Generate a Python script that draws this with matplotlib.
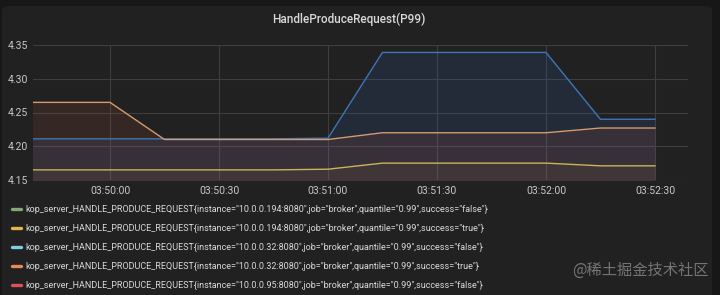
import matplotlib
matplotlib.use("Agg")
import matplotlib.pyplot as plt
import matplotlib.dates as mdates
from matplotlib.lines import Line2D
from matplotlib.patches import FancyBboxPatch
import pandas as pd

# sample times (15s scrape interval)
times = pd.to_datetime([
    "2021-01-01 03:49:30", "2021-01-01 03:49:45", "2021-01-01 03:50:00",
    "2021-01-01 03:50:15", "2021-01-01 03:50:30", "2021-01-01 03:50:45",
    "2021-01-01 03:51:00", "2021-01-01 03:51:15", "2021-01-01 03:51:30",
    "2021-01-01 03:51:45", "2021-01-01 03:52:00", "2021-01-01 03:52:15",
    "2021-01-01 03:52:30",
])

# p99 latency per series
s194_true = [4.165, 4.165, 4.165, 4.165, 4.165, 4.165, 4.166, 4.175, 4.175, 4.175, 4.175, 4.171, 4.171]
s32_false = [4.211, 4.211, 4.211, 4.211, 4.211, 4.211, 4.212, 4.339, 4.339, 4.339, 4.339, 4.240, 4.240]
s32_true = [4.265, 4.265, 4.265, 4.210, 4.210, 4.210, 4.210, 4.220, 4.220, 4.220, 4.220, 4.227, 4.227]

legend_labels = [
    'kop_server_HANDLE_PRODUCE_REQUEST{instance="10.0.0.194:8080",job="broker",quantile="0.99",success="false"}',
    'kop_server_HANDLE_PRODUCE_REQUEST{instance="10.0.0.194:8080",job="broker",quantile="0.99",success="true"}',
    'kop_server_HANDLE_PRODUCE_REQUEST{instance="10.0.0.32:8080",job="broker",quantile="0.99",success="false"}',
    'kop_server_HANDLE_PRODUCE_REQUEST{instance="10.0.0.32:8080",job="broker",quantile="0.99",success="true"}',
    'kop_server_HANDLE_PRODUCE_REQUEST{instance="10.0.0.95:8080",job="broker",quantile="0.99",success="false"}',
]
legend_colors = ["#86a873", "#e0b84a", "#7ccfe6", "#e88a55", "#e0505a"]

yticks = [4.15, 4.20, 4.25, 4.30, 4.35]

plt.rcParams["font.family"] = ["Roboto", "DejaVu Sans"]

W, H = 720, 295
fig = plt.figure(figsize=(W / 100, H / 100), dpi=100, facecolor="#171717")

# panel background
panel = FancyBboxPatch((2 / W, -0.1), 710 / W, (H - 6) / H + 0.1,
                       boxstyle="round,pad=0,rounding_size=0.012",
                       transform=fig.transFigure, fc="#212121", ec="none", zorder=-10)
fig.patches.append(panel)

ax = fig.add_axes([33 / W, 1 - 180 / H, (688 - 33) / W, (180 - 45) / H])
ax.set_facecolor("none")

# fills (grafana fill=1)
ax.fill_between(times, s32_false, 4.0, color="#3274d9", alpha=0.13, lw=0)
ax.fill_between(times, s32_true, 4.0, color="#e0603c", alpha=0.11, lw=0)
ax.fill_between(times, s194_true, 4.0, color="#eab839", alpha=0.05, lw=0)

ax.plot(times, s32_false, color="#3f76b8", lw=1.0)
ax.plot(times, s194_true, color="#c9b45c", lw=1.0)
ax.plot(times, s32_true, color="#d49a70", lw=1.0)

ax.set_xlim(pd.Timestamp("2021-01-01 03:49:38.8"), pd.Timestamp("2021-01-01 03:52:39.1"))
ax.set_ylim(4.15, 4.35)
ax.set_yticks(yticks)
ax.set_yticklabels(["%.2f" % v for v in yticks])
ax.xaxis.set_major_locator(mdates.SecondLocator(bysecond=[0, 30]))
ax.xaxis.set_major_formatter(mdates.DateFormatter("%H:%M:%S"))

ax.grid(True, color="#3e3e3e", lw=0.8)
ax.set_axisbelow(True)
for sp in ax.spines.values():
    sp.set_visible(False)
ax.tick_params(length=0, colors="#c8c8c8", labelsize=7.5)
ax.tick_params(axis="y", pad=3.6)
ax.tick_params(axis="x", pad=4)

fig.text(349 / W, 1 - 19 / H, "HandleProduceRequest(P99)", color="#d8d9da",
         fontsize=8.5, fontweight="medium", ha="center", va="center")

# legend (two series have no visible data in range)
handles = [Line2D([], [], color=c, lw=2.4, solid_capstyle="round") for c in legend_colors]
fig.legend(handles, legend_labels, loc="upper left", bbox_to_anchor=(12 / W, 1 - 205 / H),
           frameon=False, fontsize=6.5, labelcolor="#d8d9da", handlelength=1.0,
           handletextpad=0.45, labelspacing=1.05, borderaxespad=0, borderpad=0)

fig.text(572 / W, 1 - 270 / H, "@稀土掘金技术社区", color="#8a8a8a", alpha=0.8,
         fontsize=11, ha="left", va="center",
         family=["Noto Sans CJK SC", "DejaVu Sans"])

fig.savefig("out.png", dpi=100, facecolor=fig.get_facecolor())
